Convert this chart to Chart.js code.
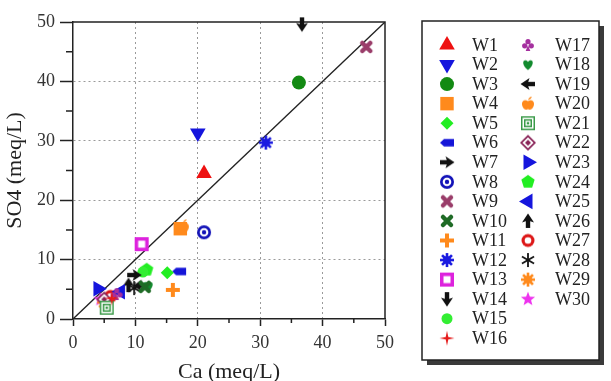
<!DOCTYPE html>
<html lang="en">
<head>
<meta charset="UTF-8">
<title>SO4 vs Ca</title>
<script src="https://cdn.jsdelivr.net/npm/chart.js"></script>
<style>
*{margin:0;padding:0;box-sizing:border-box;}
body{background:#fff;width:611px;height:381px;overflow:hidden;}
#wrap{position:relative;width:611px;height:381px;}
</style>
</head>
<body>
<div id="wrap"><canvas id="chart"></canvas></div>
<script>
// sample wells
const wells = ["W1","W2","W3","W4","W5","W6","W7","W8","W9","W10","W11","W12","W13","W14","W15",
"W16","W17","W18","W19","W20","W21","W22","W23","W24","W25","W26","W27","W28","W29","W30"];
// Ca (meq/L)
const caValues = [21.0,20.0,36.2,17.2,15.1,17.0,9.8,21.0,47.0,11.5,16.0,30.9,11.0,36.7,11.2,
6.2,7.0,12.0,10.8,17.6,5.4,5.0,4.0,11.8,7.6,8.9,6.0,9.8,5.0,4.4];
// SO4 (meq/L)
const so4Values = [24.5,31.3,39.8,15.2,7.8,8.0,7.4,14.6,45.8,5.4,4.9,29.7,12.6,49.6,7.9,
3.5,4.2,5.5,5.6,15.6,1.9,3.3,5.1,8.3,4.6,5.7,3.8,5.2,2.8,3.3];
const axisTicks = [0,10,20,30,40,50];
const minorTicks = [5,15,25,35,45];
const oneToOne = [0,50];

// marker helpers
function mk(size, draw){
  const c = document.createElement('canvas');
  c.width = c.height = size;
  const g = c.getContext('2d');
  g.translate(size/2, size/2);
  draw(g);
  return c;
}
function poly(g, n, ro, ri){
  g.beginPath();
  const steps = ri ? n*2 : n;
  for(let i=0;i<steps;i++){
    const r = ri ? (i%2 ? ri : ro) : ro;
    const a = -Math.PI/2 + i*2*Math.PI/steps;
    const px = Math.cos(a)*r, py = Math.sin(a)*r;
    i ? g.lineTo(px,py) : g.moveTo(px,py);
  }
  g.closePath();
}
const arrow = color => mk(18, g => {
  g.fillStyle = color;
  g.fillRect(-7,-2.2,8,4.4);
  g.beginPath(); g.moveTo(7.5,0); g.lineTo(-1.5,-6); g.lineTo(0.5,0); g.lineTo(-1.5,6); g.closePath(); g.fill();
});
const thickX = color => mk(16, g => {
  g.strokeStyle = color; g.lineWidth = 4.5; g.lineCap = 'round';
  g.beginPath(); g.moveTo(-4,-4); g.lineTo(4,4); g.moveTo(-4,4); g.lineTo(4,-4); g.stroke();
});
const burst = color => mk(18, g => {
  g.strokeStyle = color; g.fillStyle = color; g.lineWidth = 2.6;
  for(let i=0;i<8;i++){
    const a = i*Math.PI/4;
    g.beginPath(); g.moveTo(0,0); g.lineTo(Math.cos(a)*7, Math.sin(a)*7); g.stroke();
  }
  g.beginPath(); g.arc(0,0,4,0,2*Math.PI); g.fill();
});

const marker = {
  tag: mk(18, g => {
    g.fillStyle = '#1515d8';
    g.beginPath(); g.moveTo(-7,0); g.lineTo(-3,-3.8); g.lineTo(7,-3.8); g.lineTo(7,3.8); g.lineTo(-3,3.8); g.closePath(); g.fill();
  }),
  bull: mk(18, g => {
    g.fillStyle = '#1212b8'; g.beginPath(); g.arc(0,0,7,0,2*Math.PI); g.fill();
    g.fillStyle = '#fff'; g.beginPath(); g.arc(0,0,4.3,0,2*Math.PI); g.fill();
    g.fillStyle = '#1212b8'; g.beginPath(); g.arc(0,0,2.2,0,2*Math.PI); g.fill();
  }),
  plus: mk(18, g => {
    g.fillStyle = '#ff8a1c';
    g.fillRect(-7,-2,14,4); g.fillRect(-2,-7,4,14);
  }),
  hollowSq: mk(18, g => {
    g.fillStyle = '#dd22dd'; g.fillRect(-7,-7,14,14);
    g.fillStyle = '#fff'; g.fillRect(-3.5,-3.5,7,7);
  }),
  spark: mk(18, g => { g.fillStyle = '#e51b1b'; poly(g,4,7.5,1.8); g.fill(); }),
  club: mk(16, g => {
    g.fillStyle = '#a5309f';
    [[0,-3.3],[-3.3,0.8],[3.3,0.8]].forEach(p => { g.beginPath(); g.arc(p[0],p[1],2.6,0,2*Math.PI); g.fill(); });
    g.beginPath(); g.moveTo(0,0); g.lineTo(-2.3,6); g.lineTo(2.3,6); g.closePath(); g.fill();
  }),
  heart: mk(16, g => {
    g.fillStyle = '#128a2e';
    g.beginPath(); g.moveTo(0,5.5);
    g.bezierCurveTo(-8,-0.5,-4.5,-7,0,-2.8);
    g.bezierCurveTo(4.5,-7,8,-0.5,0,5.5); g.fill();
  }),
  apple: mk(16, g => {
    g.fillStyle = '#ff8a1c';
    g.beginPath(); g.moveTo(0,-2.5);
    g.bezierCurveTo(-3,-4.5,-6.5,-3,-6,1);
    g.bezierCurveTo(-5.5,5,-2,7,0,5.5);
    g.bezierCurveTo(2,7,5.5,5,6,1);
    g.bezierCurveTo(6.5,-3,3,-4.5,0,-2.5); g.fill();
    g.beginPath(); g.moveTo(0,-3.5); g.quadraticCurveTo(0.8,-7,4,-7); g.quadraticCurveTo(3,-4,0,-3.5); g.fill();
  }),
  nestSq: mk(18, g => {
    g.fillStyle = '#3a9a48'; g.fillRect(-7,-7,14,14);
    g.fillStyle = '#fff'; g.fillRect(-5.5,-5.5,11,11);
    g.fillStyle = '#3a9a48'; g.fillRect(-4,-4,8,8);
    g.fillStyle = '#fff'; g.fillRect(-2.5,-2.5,5,5);
    g.fillStyle = '#3a9a48'; g.fillRect(-1.2,-1.2,2.4,2.4);
  }),
  diaDot: mk(18, g => {
    g.fillStyle = '#8a2458'; poly(g,4,8); g.fill();
    g.fillStyle = '#fff'; poly(g,4,5.6); g.fill();
    g.fillStyle = '#8a2458'; poly(g,4,3); g.fill();
  }),
  penta: mk(16, g => { g.fillStyle = '#22ee22'; poly(g,5,7); g.fill(); }),
  ring: mk(16, g => {
    g.fillStyle = '#dd1818'; g.beginPath(); g.arc(0,0,6.5,0,2*Math.PI); g.fill();
    g.fillStyle = '#fff'; g.beginPath(); g.arc(0,0,3.3,0,2*Math.PI); g.fill();
  }),
  aster: mk(16, g => {
    g.strokeStyle = '#111'; g.lineWidth = 1.8;
    for(let i=0;i<3;i++){
      const a = Math.PI/2 + i*Math.PI/3;
      g.beginPath(); g.moveTo(Math.cos(a)*7,Math.sin(a)*7); g.lineTo(-Math.cos(a)*7,-Math.sin(a)*7); g.stroke();
    }
  }),
  star5: mk(18, g => { g.fillStyle = '#ee33ee'; poly(g,5,7.5,3.2); g.fill(); }),
  arrowBlack: arrow('#111'),
  xPurple: thickX('#9a3d6a'),
  xGreen: thickX('#1f6b26'),
  burstBlue: burst('#1a1ae0'),
  burstOrange: burst('#ff8a1c')
};

// per-well style: [pointStyle, color, radius, rotation]
const styles = [
  ['triangle','#ee1111',9,0],
  ['triangle','#1515dd',9,180],
  ['circle','#138a13',7,0],
  ['rect','#ff8a1c',9.5,0],
  ['rectRot','#22ee22',6.5,0],
  [marker.tag,'#1515d8',0,0],
  [marker.arrowBlack,'#111',0,0],
  [marker.bull,'#1212b8',0,0],
  [marker.xPurple,'#9a3d6a',0,0],
  [marker.xGreen,'#1f6b26',0,0],
  [marker.plus,'#ff8a1c',0,0],
  [marker.burstBlue,'#1a1ae0',0,0],
  [marker.hollowSq,'#dd22dd',0,0],
  [marker.arrowBlack,'#111',0,90],
  ['circle','#33ee33',5.5,0],
  [marker.spark,'#e51b1b',0,0],
  [marker.club,'#a5309f',0,0],
  [marker.heart,'#128a2e',0,0],
  [marker.arrowBlack,'#111',0,180],
  [marker.apple,'#ff8a1c',0,0],
  [marker.nestSq,'#3a9a48',0,0],
  [marker.diaDot,'#8a2458',0,0],
  ['triangle','#1515dd',9,90],
  [marker.penta,'#22ee22',0,0],
  ['triangle','#1515dd',9,-90],
  [marker.arrowBlack,'#111',0,-90],
  [marker.ring,'#dd1818',0,0],
  [marker.aster,'#111',0,0],
  [marker.burstOrange,'#ff8a1c',0,0],
  [marker.star5,'#ee33ee',0,0]
];

const datasets = wells.map((w,i) => ({
  label: w,
  data: [{x: caValues[i], y: so4Values[i]}],
  pointStyle: styles[i][0],
  backgroundColor: styles[i][1],
  borderColor: styles[i][1],
  borderWidth: 0,
  pointRadius: styles[i][2] || 8,
  rotation: styles[i][3],
  clip: false,
  order: 0
}));
datasets.push({
  type: 'line',
  label: '1:1',
  data: oneToOne.map(v => ({x: v, y: v})),
  borderColor: '#222',
  borderWidth: 1.3,
  pointRadius: 0,
  order: 1
});

const framePlugin = {
  id: 'frame',
  beforeDatasetsDraw(chart){
    const {ctx, chartArea: a, scales} = chart;
    ctx.save();
    ctx.strokeStyle = '#222';
    ctx.lineWidth = 1.5;
    ctx.beginPath();
    ctx.moveTo(a.left, a.top); ctx.lineTo(a.right, a.top); ctx.lineTo(a.right, a.bottom);
    minorTicks.forEach(v => {
      const py = scales.y.getPixelForValue(v);
      ctx.moveTo(a.left - 7, py); ctx.lineTo(a.left, py);
      const px = scales.x.getPixelForValue(v);
      ctx.moveTo(px, a.bottom); ctx.lineTo(px, a.bottom + 4);
    });
    ctx.stroke();
    ctx.restore();
  }
};

const legendPlugin = {
  id: 'boxLegend',
  afterDraw(chart){
    const ctx = chart.ctx;
    const L = 422, T = 21, R = 599, B = 360, off = 5;
    ctx.save();
    ctx.fillStyle = '#3a3a3a';
    ctx.fillRect(L + off, T + off, R - L, B - T);
    ctx.fillStyle = '#fff';
    ctx.fillRect(L, T, R - L, B - T);
    ctx.strokeStyle = '#222';
    ctx.lineWidth = 1.5;
    ctx.strokeRect(L, T, R - L, B - T);
    ctx.font = '18px "Liberation Serif", "Times New Roman", serif';
    ctx.textBaseline = 'middle';
    chart.data.datasets.forEach((ds, i) => {
      if (ds.type === 'line') return;
      const col = i < 16 ? 0 : 1;
      const row = i < 16 ? i : i - 16;
      const mx = col ? 528 : 447;
      const tx = col ? 555 : 472;
      const y = 45 + row * 19.55;
      ctx.fillStyle = ds.backgroundColor;
      ctx.strokeStyle = ds.borderColor;
      Chart.helpers.drawPoint(ctx, {
        pointStyle: ds.pointStyle, radius: ds.pointRadius, rotation: ds.rotation, borderWidth: 0
      }, mx, y);
      ctx.fillStyle = '#222';
      ctx.fillText(ds.label, tx, y + 1);
    });
    ctx.restore();
  }
};

const tickFont = {family: '"Liberation Serif", "Times New Roman", serif', size: 18};
const titleFont = {family: '"Liberation Serif", "Times New Roman", serif', size: 22, lineHeight: 1.2};
const gridColor = c => (c.tick && (c.tick.value === 0 || c.tick.value === 50)) ? 'rgba(0,0,0,0)' : '#9a9a9a';

new Chart(document.getElementById('chart'), {
  type: 'scatter',
  data: {datasets},
  options: {
    responsive: true,
    maintainAspectRatio: false,
    animation: false,
    layout: {padding: {top: 22, right: 226, left: 0, bottom: 0}},
    plugins: {legend: {display: false}, tooltip: {enabled: false}},
    scales: {
      x: {
        type: 'linear', min: 0, max: 50,
        afterBuildTicks: s => { s.ticks = axisTicks.map(v => ({value: v})); },
        afterFit: s => { s.height = 62; },
        ticks: {color: '#333', font: tickFont, padding: 6, maxRotation: 0},
        grid: {color: gridColor, lineWidth: 1, tickLength: 7, tickColor: '#222', tickWidth: 1.5},
        border: {display: true, color: '#222', width: 1.5, dash: [2, 3]},
        title: {display: true, text: 'Ca (meq/L)', color: '#222', font: titleFont, padding: {top: 0, bottom: -4}}
      },
      y: {
        type: 'linear', min: 0, max: 50,
        afterBuildTicks: s => { s.ticks = axisTicks.map(v => ({value: v})); },
        afterFit: s => { s.width = 73; },
        ticks: {color: '#333', font: tickFont, padding: 5},
        grid: {color: gridColor, lineWidth: 1, tickLength: 13, tickColor: '#222', tickWidth: 1.5},
        border: {display: true, color: '#222', width: 1.5, dash: [2, 3]},
        title: {display: true, text: 'SO4 (meq/L)', color: '#222', font: titleFont, padding: {top: 2, bottom: 0}}
      }
    }
  },
  plugins: [framePlugin, legendPlugin]
});
</script>
</body>
</html>
